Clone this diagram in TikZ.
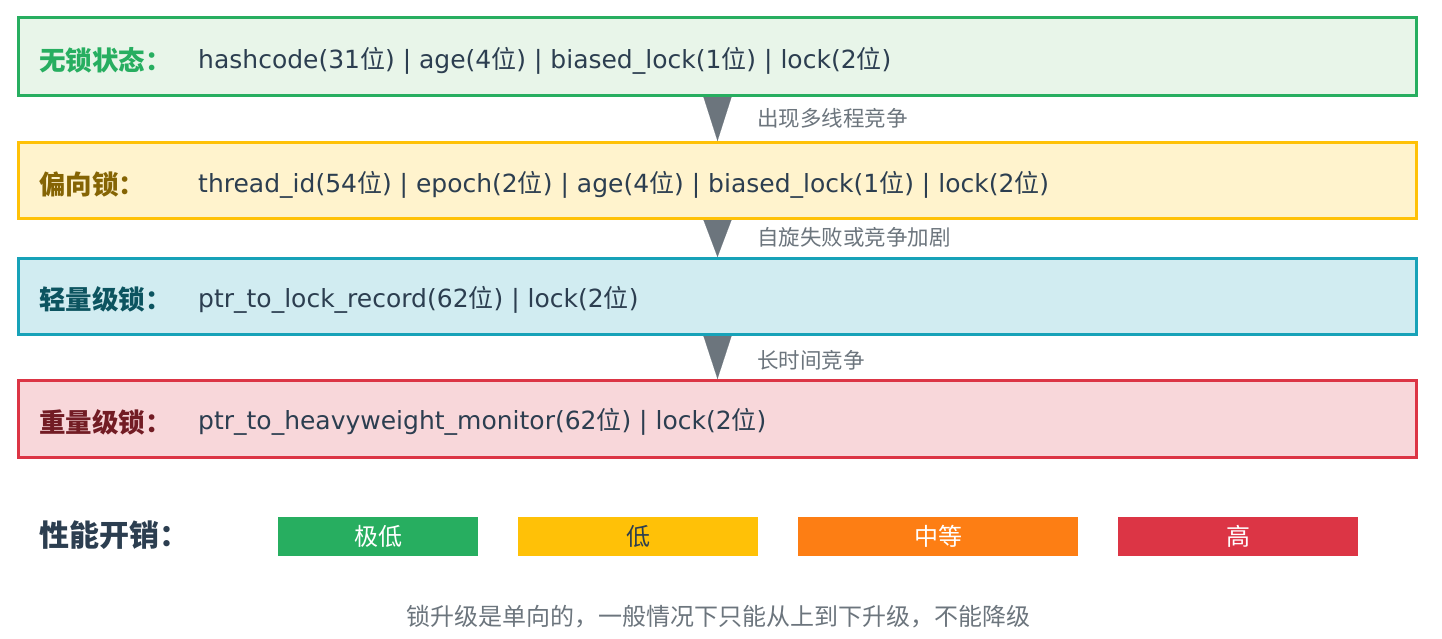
\documentclass[tikz,border=0pt]{standalone}
\usepackage{fontspec}
\setmainfont{DejaVu Sans}
\newfontfamily\cjk{Noto Sans CJK SC}
\usetikzlibrary{arrows.meta}
\newcommand{\wei}{{\cjk 位}}

\definecolor{nolockline}{HTML}{27AE60}
\definecolor{nolockfill}{HTML}{E8F5E9}
\definecolor{biasline}{HTML}{FFC107}
\definecolor{biasfill}{HTML}{FFF3CD}
\definecolor{biastext}{HTML}{856404}
\definecolor{thinline}{HTML}{17A2B8}
\definecolor{thinfill}{HTML}{D1ECF1}
\definecolor{thintext}{HTML}{0C5460}
\definecolor{fatline}{HTML}{DC3545}
\definecolor{fatfill}{HTML}{F8D7DA}
\definecolor{fattext}{HTML}{721C24}
\definecolor{darktext}{HTML}{2C3E50}
\definecolor{greytext}{HTML}{6C757D}
\definecolor{midcost}{HTML}{FD7E14}

\tikzset{upgrade/.style={-{Triangle[width=28pt,length=#1]},line width=0.1pt,
                         draw=greytext,fill=greytext}}

\begin{document}
\begin{tikzpicture}[x=1pt,y=-1pt]
  \tikzstyle{lockbox}=[draw,line width=3pt,minimum width=1398pt,minimum height=78pt,inner sep=0pt]
  \tikzstyle{locktitle}=[anchor=west,inner sep=0pt,font=\cjk\bfseries\fontsize{26.5}{30}\selectfont]
  \tikzstyle{lockbits}=[anchor=west,inner sep=0pt,text=darktext,font=\fontsize{25}{30}\selectfont]
  \tikzstyle{why}=[midway,anchor=west,xshift=39.5pt,inner sep=0pt,text=greytext,
                   font=\cjk\fontsize{21.5}{25}\selectfont]
  \tikzstyle{costbar}=[minimum height=39pt,inner sep=0pt,font=\cjk\fontsize{24}{28}\selectfont]

  \useasboundingbox (0,0) rectangle (1442,638);

  % lock states
  \node[lockbox,draw=nolockline,fill=nolockfill] (nolock) at (717.5,56.5)  {};
  \node[lockbox,draw=biasline,fill=biasfill,minimum height=76pt] (bias) at (717.5,180.5) {};
  \node[lockbox,draw=thinline,fill=thinfill,minimum height=76pt] (thin) at (717.5,296.5) {};
  \node[lockbox,draw=fatline,fill=fatfill,minimum height=77pt]   (fat)  at (717.5,419)   {};

  \node[locktitle,text=nolockline] (nolocktitle) at ([xshift=22pt,yshift=-4pt]nolock.west) {无锁状态：};
  \node[locktitle,text=biastext]   (biastitle)   at ([xshift=22pt,yshift=-4pt]bias.west)   {偏向锁：};
  \node[locktitle,text=thintext]   (thintitle)   at ([xshift=22pt,yshift=-3pt]thin.west)   {轻量级锁：};
  \node[locktitle,text=fattext]    (fattitle)    at ([xshift=22pt,yshift=-3pt]fat.west)    {重量级锁：};

  \node[lockbits] (nolockbits) at ([xshift=181pt,yshift=-4pt]nolock.west)
    {hashcode(31\wei) | age(4\wei) | biased\_lock(1\wei) | lock(2\wei)};
  \node[lockbits] (biasbits) at ([xshift=181pt,yshift=-4pt]bias.west)
    {thread\_id(54\wei) | epoch(2\wei) | age(4\wei) | biased\_lock(1\wei) | lock(2\wei)};
  \node[lockbits] (thinbits) at ([xshift=181pt,yshift=-3pt]thin.west)
    {ptr\_to\_lock\_record(62\wei) | lock(2\wei)};
  \node[lockbits] (fatbits) at ([xshift=181pt,yshift=-3pt]fat.west)
    {ptr\_to\_heavyweight\_monitor(62\wei) | lock(2\wei)};

  % upgrades
  \path (nolock) edge[upgrade=44pt] node[why,yshift=1pt]  {出现多线程竞争}   (bias)
        (bias)   edge[upgrade=37pt] node[why,yshift=1pt]  {自旋失败或竞争加剧} (thin)
        (thin)   edge[upgrade=43pt] node[why,yshift=-3pt] {长时间竞争}       (fat);

  % cost
  \node[anchor=west,inner sep=0pt,text=darktext,font=\cjk\bfseries\fontsize{30}{34}\selectfont]
    (cost) at (39,535.5) {性能开销：};
  \node[costbar,fill=nolockline,text=white,minimum width=200pt] (verylow) at (378,536.5)  {极低};
  \node[costbar,fill=biasline,text=darktext,minimum width=240pt] (low)    at (638,536.5)  {低};
  \node[costbar,fill=midcost,text=white,minimum width=280pt]    (medium)  at (938,536.5)  {中等};
  \node[costbar,fill=fatline,text=white,minimum width=240pt]    (high)    at (1238,536.5) {高};

  \node[text=greytext,inner sep=0pt,font=\cjk\fontsize{24}{28}\selectfont] (note) at (718,617)
    {锁升级是单向的，一般情况下只能从上到下升级，不能降级};
\end{tikzpicture}
\end{document}
